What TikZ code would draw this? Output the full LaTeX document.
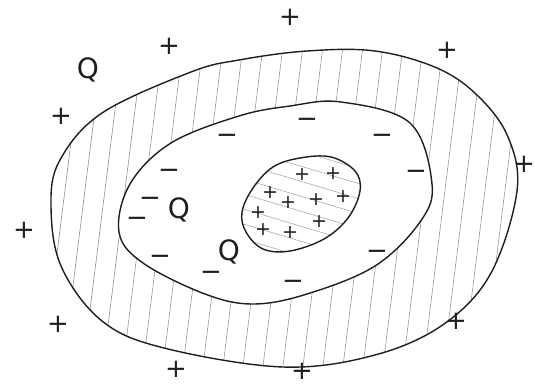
\documentclass[tikz,border=0pt]{standalone}
\usepackage{fontspec}
\usepackage{tikz}
\usetikzlibrary{calc}
\newfontfamily\handfont{DejaVu Sans}
\definecolor{ink}{HTML}{1E1E1E}
\definecolor{hatchC}{HTML}{8A8A8A}
\tikzset{
  rim/.style={draw=ink, line width=1.4pt, line join=round},
  hatch/.style={draw=hatchC, line width=0.5pt},
  plusout/.style={font=\handfont\fontsize{26}{26}\selectfont, text=ink, inner sep=0pt,
    text height=0.62em, text depth=-0.04em},
  plusin/.style={font=\handfont\fontsize{19}{19}\selectfont, text=ink, inner sep=0pt,
    text height=0.62em, text depth=-0.04em},
  minus/.style={font=\handfont\fontsize{26}{26}\selectfont, text=ink, inner sep=0pt,
    text height=0.36em, text depth=-0.28em},
  chg/.style={font=\handfont\fontsize{28}{28}\selectfont, text=ink, inner sep=0pt},
}

\begin{document}
\begin{tikzpicture}[x=1pt, y=-1pt]
\useasboundingbox (0,0) rectangle (535,387);

% ── outer boundary (hatched ring) ───────────────────────────────────────────
\def\outerpath{plot[smooth cycle, tension=0.6] coordinates {
  (191,72) (239,60) (307,51) (375,51) (437,68) (478,96) (508,137)
  (517,191) (491,273) (444,324) (375,355) (283,367) (164,348)
  (102,321) (61,266) (51,205) (60,160) (102,113)}}
\def\midpath{plot[smooth cycle, tension=0.6] coordinates {
  (239,116) (290,106) (341,102) (410,123) (432,184) (420,222)
  (375,266) (307,294) (253,304) (205,294) (143,263) (119,232)
  (130,184) (171,143)}}
\def\corepath{plot[smooth cycle, tension=0.6] coordinates {
  (331,157) (355,171) (360,191) (348,218) (324,239) (290,251)
  (263,249) (246,232) (242,212) (253,188) (273,167) (300,158)}}

\begin{scope}
  \clip \outerpath;
  \foreach \x in {-40,-20,...,560}
    \draw[hatch] (\x,390) -- ($(\x,390)+(50,-400)$);
\end{scope}
\fill[white] \midpath;
\draw[rim] \outerpath;
\draw[rim] \midpath;

% ── inner core ──────────────────────────────────────────────────────────────
\begin{scope}
  \clip \corepath;
  \foreach \y in {100,115,...,250}
    \draw[hatch, draw=hatchC!80] (230,\y) -- (370,\y+42);
\end{scope}
\draw[rim] \corepath;

% ── charges inside the core ─────────────────────────────────────────────────
\node[plusin] (c1) at (302,177) {+};
\node[plusin] (c2) at (333,176) {+};
\node[plusin] (c3) at (270,195) {+};
\node[plusin] (c4) at (288,205) {+};
\node[plusin] (c5) at (316,202) {+};
\node[plusin] (c6) at (343,199) {+};
\node[plusin] (c7) at (258,215) {+};
\node[plusin] (c8) at (263,232) {+};
\node[plusin] (c9) at (319,224) {+};
\node[plusin] (c10) at (290,235) {+};

% ── negative charges in the middle zone ─────────────────────────────────────
\node[minus] (m1) at (307,126) {−};
\node[minus] (m2) at (227,142) {−};
\node[minus] (m3) at (382,142) {−};
\node[minus] (m4) at (169,177) {−};
\node[minus] (m5) at (416,178) {−};
\node[minus] (m6) at (150,205) {−};
\node[minus] (m7) at (137,225) {−};
\node[minus] (m8) at (160,263) {−};
\node[minus] (m9) at (211,279) {−};
\node[minus] (m10) at (293,288) {−};
\node[minus] (m11) at (377,258) {−};

% ── test charges ────────────────────────────────────────────────────────────
\node[chg] (q1) at (88,70) {Q};
\node[chg] (q2) at (179,210) {Q};
\node[chg] (q3) at (229,252) {Q};

% ── positive charges outside ────────────────────────────────────────────────
\node[plusout] (p1) at (290,22) {+};
\node[plusout] (p2) at (169,51) {+};
\node[plusout] (p3) at (447,55) {+};
\node[plusout] (p4) at (61,121) {+};
\node[plusout] (p5) at (524,169) {+};
\node[plusout] (p6) at (24,235) {+};
\node[plusout] (p7) at (58,329) {+};
\node[plusout] (p8) at (456,326) {+};
\node[plusout] (p9) at (176,374) {+};
\node[plusout] (p10) at (302,376) {+};

\end{tikzpicture}
\end{document}
